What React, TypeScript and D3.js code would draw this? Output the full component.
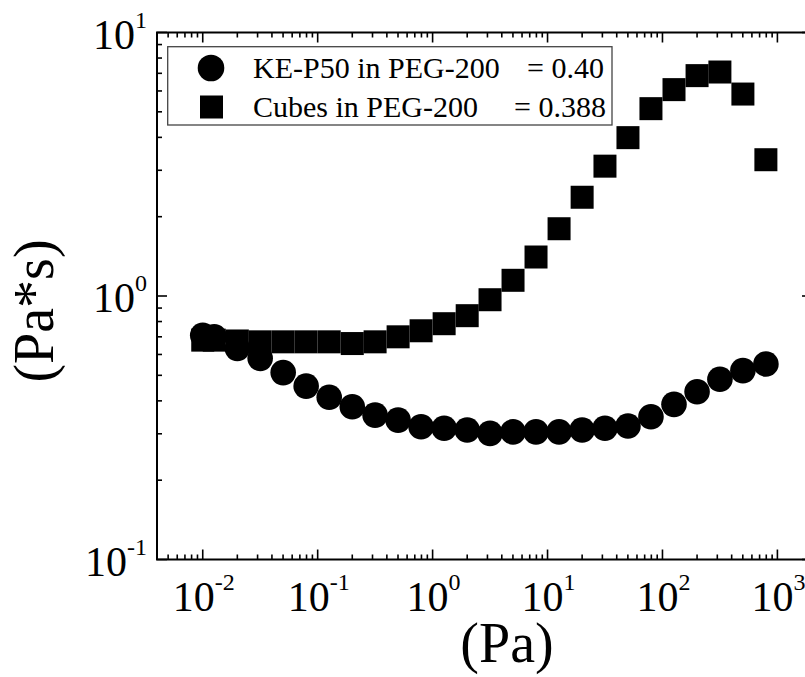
import React from 'react';
import * as d3 from 'd3';

// Shear stress (Pa), shared by both measurement series
const shearStress = [
  0.01, 0.0126, 0.02, 0.0316, 0.0501, 0.0794, 0.126, 0.2, 0.316, 0.501, 0.794,
  1.26, 2.0, 3.16, 5.01, 7.94, 12.6, 20.0, 31.6, 50.1, 79.4, 126, 200, 316, 501, 794,
];

// Viscosity (Pa*s), KE-P50 spheres in PEG-200
const viscosityKEP50 = [
  0.71, 0.7, 0.633, 0.58, 0.512, 0.455, 0.413, 0.38, 0.353, 0.338, 0.319,
  0.315, 0.31, 0.301, 0.305, 0.305, 0.305, 0.31, 0.315, 0.321, 0.348, 0.388, 0.433, 0.483, 0.521, 0.552,
];

// Viscosity (Pa*s), cubes in PEG-200
const viscosityCubes = [
  0.68, 0.68, 0.675, 0.67, 0.67, 0.67, 0.67, 0.66, 0.67, 0.7, 0.738,
  0.785, 0.842, 0.968, 1.147, 1.406, 1.8, 2.37, 3.11, 3.99, 5.14, 6.07, 6.86, 7.08, 5.84, 3.29,
];

const legendNames = ['KE-P50 in PEG-200', 'Cubes in PEG-200'];
const legendFractions = ['= 0.40', '= 0.388'];

const xTickExponents = ['-2', '-1', '0', '1', '2', '3'];
const yTickExponents = ['-1', '0', '1'];

const xTitle = '(Pa)';
const yTitle = '(Pa*s)';

const W = 805;
const H = 677;
const FONT = 'Liberation Serif, Times New Roman, Times, serif';

export default function App() {
  const x = d3.scaleLog().domain([0.004, 2000]).range([157, 812]);
  const y = d3.scaleLog().domain([0.1, 10]).range([559.5, 32.5]);

  const [x0, x1] = x.range();
  const [yb, yt] = y.range();

  const isMajor = (v: number) => Math.abs(Math.log10(v) - Math.round(Math.log10(v))) < 1e-9;
  const xTicks = x.ticks();
  const yTicks = y.ticks();

  const R = 12.8;
  const S = 23;
  const txt = { fontFamily: FONT };

  return (
    <svg
      width={W}
      height={H}
      style={{ position: 'absolute', left: 0, top: 0, background: '#fff', fontFamily: FONT }}
    >
      <rect x={0} y={0} width={W} height={H} fill="#fff" />

      {/* ticks on all four sides, pointing inward */}
      <g stroke="#000" strokeWidth={1.6}>
        {xTicks.map((t, i) => {
          const len = isMajor(t) ? 10 : 5;
          const px = x(t);
          return (
            <g key={'xt' + i}>
              <line x1={px} x2={px} y1={yb} y2={yb - len} />
              <line x1={px} x2={px} y1={yt} y2={yt + len} />
            </g>
          );
        })}
        {yTicks.map((t, i) => {
          const len = isMajor(t) ? 10 : 5;
          const py = y(t);
          return (
            <g key={'yt' + i}>
              <line x1={x0} x2={x0 + len} y1={py} y2={py} />
              <line x1={x1} x2={x1 - len} y1={py} y2={py} />
            </g>
          );
        })}
      </g>

      {/* frame */}
      <rect x={x0} y={yt} width={x1 - x0} height={yb - yt} fill="none" stroke="#000" strokeWidth={2} />

      {/* x tick labels */}
      {xTickExponents.map((e) => (
        <text key={'xl' + e} style={txt} x={x(Math.pow(10, +e)) + 1} y={611} textAnchor="middle" fontSize={42} fill="#000">
          10
          <tspan fontSize={24} dy={-21}>{e}</tspan>
        </text>
      ))}

      {/* y tick labels */}
      {yTickExponents.map((e) => (
        <text key={'yl' + e} style={txt} x={147} y={y(Math.pow(10, +e)) + 16} textAnchor="end" fontSize={42} fill="#000">
          10
          <tspan fontSize={24} dy={-21}>{e}</tspan>
        </text>
      ))}

      {/* axis titles */}
      <text style={txt} x={507} y={662} textAnchor="middle" fontSize={56} fill="#000">{xTitle}</text>
      <text style={txt} transform="translate(53,311) rotate(-90)" textAnchor="middle" fontSize={56} fill="#000">{yTitle}</text>

      {/* KE-P50 series */}
      <g fill="#000">
        {shearStress.map((s, i) => (
          <circle key={'c' + i} cx={x(s)} cy={y(viscosityKEP50[i])} r={R} />
        ))}
      </g>

      {/* Cubes series */}
      <g fill="#000">
        {shearStress.map((s, i) => (
          <rect key={'s' + i} x={x(s) - S / 2} y={y(viscosityCubes[i]) - S / 2} width={S} height={S} />
        ))}
      </g>

      {/* legend */}
      <g>
        <rect x={167.7} y={46.7} width={444.3} height={78.3} fill="#fff" stroke="#444" strokeWidth={1.3} />
        <circle cx={211} cy={68} r={13.3} fill="#000" />
        <rect x={211.5 - S / 2} y={107 - S / 2} width={S} height={S} fill="#000" />
        <text style={txt} x={253} y={78} fontSize={30} fill="#000">{legendNames[0]}</text>
        <text style={txt} x={253} y={117} fontSize={30} fill="#000">{legendNames[1]}</text>
        <text style={txt} x={527} y={78} fontSize={30} fill="#000">{legendFractions[0]}</text>
        <text style={txt} x={514} y={117} fontSize={30} fill="#000">{legendFractions[1]}</text>
      </g>
    </svg>
  );
}
